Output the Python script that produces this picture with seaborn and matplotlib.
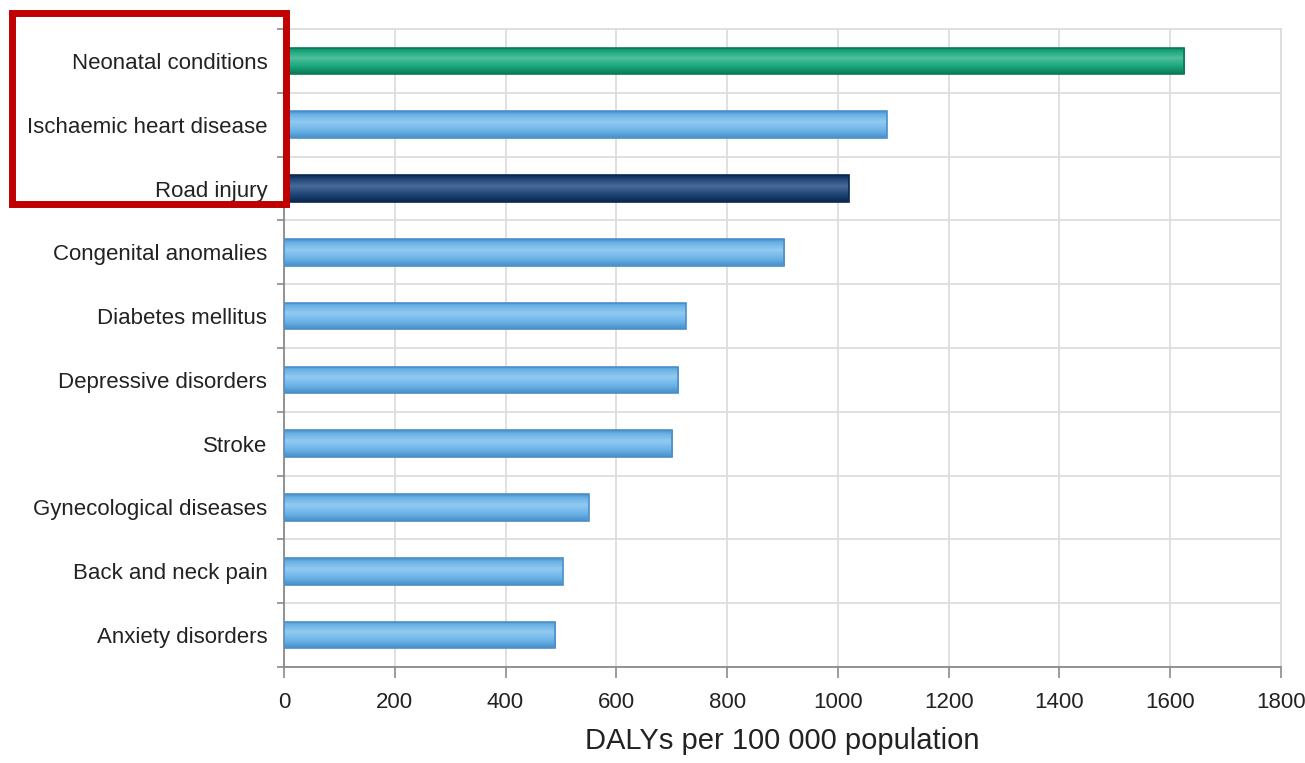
import numpy as np
import pandas as pd
import matplotlib
matplotlib.use("Agg")
import matplotlib.pyplot as plt
import seaborn as sns
from matplotlib.colors import LinearSegmentedColormap
from matplotlib.patches import Rectangle
from matplotlib.ticker import MultipleLocator, FixedLocator

# data
causes = ['Neonatal conditions', 'Ischaemic heart disease', 'Road injury',
          'Congenital anomalies', 'Diabetes mellitus', 'Depressive disorders',
          'Stroke', 'Gynecological diseases', 'Back and neck pain',
          'Anxiety disorders']
dalys = [1625, 1088, 1020, 903, 725, 712, 701, 550, 503, 490]
groups = ['green', 'blue', 'navy', 'blue', 'blue', 'blue', 'blue', 'blue', 'blue', 'blue']

df = pd.DataFrame({'cause': causes, 'dalys': dalys, 'group': groups})

# base colour, edge, light highlight per group
shades = {
    'green': ('#17a27a', '#0a7a55', '#4cc09b'),
    'blue': ('#68b1e6', '#4a8fc9', '#92caf0'),
    'navy': ('#1d4373', '#0a2850', '#48699a'),
}

sns.set_theme(style='white')
plt.rcParams['font.family'] = ['Liberation Sans', 'DejaVu Sans']

fig = plt.figure(figsize=(13.05, 7.63), dpi=100)
W, H = 1305, 763
ax = fig.add_axes([284 / W, 1 - 667 / H, (1281 - 284) / W, (667 - 29) / H])

sns.barplot(data=df, y='cause', x='dalys', hue='group', orient='h',
            palette={k: v[0] for k, v in shades.items()}, dodge=False,
            saturation=1, width=0.42, legend=False, ax=ax, zorder=3)

# glossy vertical gradient inside each bar
for patch in list(ax.patches):
    w = patch.get_width()
    if w == 0 or np.isnan(w):
        continue
    x0, y0, h = patch.get_x(), patch.get_y(), patch.get_height()
    row = int(round(y0 + h / 2))
    key = groups[row]
    base, edge, light = shades[key]
    cmap = LinearSegmentedColormap.from_list(
        key, [(0, edge), (0.12, base), (0.4, light), (0.75, base), (1, edge)])
    grad = np.linspace(0, 1, 64).reshape(-1, 1)
    im = ax.imshow(grad, cmap=cmap, aspect='auto', extent=(x0, x0 + w, y0 + h, y0),
                   zorder=3.5, interpolation='bicubic')
    im.set_clip_path(patch)
    patch.set_edgecolor(edge)
    patch.set_linewidth(1.2)
    patch.set_zorder(4)
    patch.set_facecolor('none')

ax.set_xlim(0, 1800)
ax.set_ylim(len(causes) - 0.5, -0.5)
ax.xaxis.set_major_locator(MultipleLocator(200))
ax.yaxis.set_minor_locator(FixedLocator(np.arange(-0.5, len(causes), 1.0)))

ax.grid(True, axis='x', which='major', color='#dddddd', lw=1.3, zorder=0)
ax.grid(True, axis='y', which='minor', color='#dddddd', lw=1.3, zorder=0)
ax.grid(False, axis='y', which='major')

for side in ['top', 'right']:
    ax.spines[side].set_color('#dddddd')
    ax.spines[side].set_linewidth(1.3)
for side in ['left', 'bottom']:
    ax.spines[side].set_color('#8a8a8a')
    ax.spines[side].set_linewidth(1.3)

ax.tick_params(axis='y', which='major', length=0, pad=12, labelsize=16, labelcolor='#222222')
ax.tick_params(axis='y', which='minor', left=True, length=5, width=1.2, color='#8a8a8a')
ax.tick_params(axis='x', which='major', bottom=True, length=8, width=1.2, color='#8a8a8a',
               pad=10, labelsize=16, labelcolor='#222222')

ax.set_ylabel('')
ax.set_xlabel('DALYs per 100 000 population', fontsize=21, color='#222222', labelpad=10)

# red highlight box around the top three labels
fig.patches.append(Rectangle((12.5 / W, 1 - 203.5 / H), (285.5 - 12.5) / W, (203.5 - 12.5) / H,
                             transform=fig.transFigure, fill=False, edgecolor='#c00000',
                             linewidth=5.0, zorder=10))

fig.savefig('out.png', dpi=100)
